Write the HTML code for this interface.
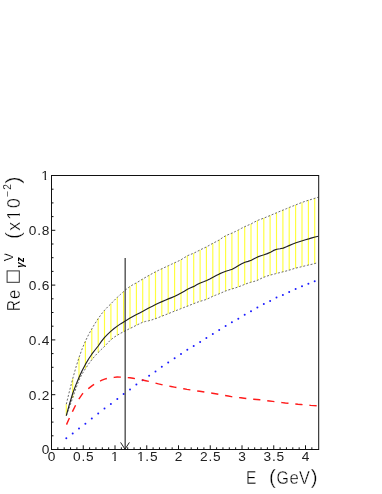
<!DOCTYPE html>
<html><head><meta charset="utf-8"><style>
html,body{margin:0;padding:0;background:#fff;}
svg{display:block;will-change:transform;}
text{font-family:"Liberation Sans",sans-serif;}
</style></head><body>
<svg width="382" height="494" viewBox="0 0 382 494">
<rect width="382" height="494" fill="#fff"/>
<g stroke="#ffff3c" stroke-width="1.15" fill="none"><line x1="66.3" y1="404.2" x2="66.3" y2="415.6"/><line x1="72.7" y1="378.8" x2="72.7" y2="398.0"/><line x1="79.0" y1="357.3" x2="79.0" y2="379.8"/><line x1="85.4" y1="341.2" x2="85.4" y2="368.7"/><line x1="91.8" y1="328.9" x2="91.8" y2="359.7"/><line x1="98.2" y1="318.6" x2="98.2" y2="352.5"/><line x1="104.5" y1="310.3" x2="104.5" y2="346.5"/><line x1="110.9" y1="303.8" x2="110.9" y2="339.7"/><line x1="117.3" y1="297.4" x2="117.3" y2="335.3"/><line x1="123.6" y1="291.6" x2="123.6" y2="331.7"/><line x1="130.0" y1="286.5" x2="130.0" y2="328.5"/><line x1="136.4" y1="282.9" x2="136.4" y2="325.3"/><line x1="142.7" y1="279.0" x2="142.7" y2="322.3"/><line x1="149.1" y1="275.3" x2="149.1" y2="320.7"/><line x1="155.5" y1="271.9" x2="155.5" y2="318.7"/><line x1="161.8" y1="268.8" x2="161.8" y2="316.2"/><line x1="168.2" y1="265.8" x2="168.2" y2="313.7"/><line x1="174.6" y1="262.8" x2="174.6" y2="311.1"/><line x1="181.0" y1="259.8" x2="181.0" y2="308.6"/><line x1="187.3" y1="255.8" x2="187.3" y2="306.2"/><line x1="193.7" y1="253.2" x2="193.7" y2="303.6"/><line x1="200.1" y1="249.9" x2="200.1" y2="301.3"/><line x1="206.4" y1="246.9" x2="206.4" y2="299.4"/><line x1="212.8" y1="243.3" x2="212.8" y2="296.3"/><line x1="219.2" y1="240.0" x2="219.2" y2="293.8"/><line x1="225.6" y1="235.8" x2="225.6" y2="291.0"/><line x1="231.9" y1="233.1" x2="231.9" y2="288.9"/><line x1="238.3" y1="230.0" x2="238.3" y2="286.9"/><line x1="244.7" y1="226.7" x2="244.7" y2="284.4"/><line x1="251.0" y1="223.9" x2="251.0" y2="282.2"/><line x1="257.4" y1="220.5" x2="257.4" y2="280.3"/><line x1="263.8" y1="218.1" x2="263.8" y2="277.2"/><line x1="270.1" y1="215.5" x2="270.1" y2="275.2"/><line x1="276.5" y1="212.8" x2="276.5" y2="273.4"/><line x1="282.9" y1="210.1" x2="282.9" y2="271.9"/><line x1="289.2" y1="207.5" x2="289.2" y2="270.1"/><line x1="295.6" y1="204.9" x2="295.6" y2="268.2"/><line x1="302.0" y1="202.4" x2="302.0" y2="266.6"/><line x1="308.4" y1="200.3" x2="308.4" y2="265.0"/><line x1="314.7" y1="198.4" x2="314.7" y2="263.6"/></g>
<path d="M66.3,404.2 L69.5,391.0 L72.7,378.8 L75.9,367.4 L79.1,357.3 L82.2,348.7 L85.4,341.2 L88.6,334.6 L91.8,328.9 L95.0,323.5 L98.2,318.6 L101.4,314.1 L104.6,310.2 L107.8,306.8 L111.0,303.7 L114.1,300.5 L117.3,297.3 L120.5,294.4 L123.7,291.5 L126.9,288.8 L130.1,286.4 L133.3,284.5 L136.5,282.8 L139.7,280.9 L142.9,278.9 L146.0,277.1 L149.2,275.3 L152.4,273.5 L155.6,271.8 L158.8,270.2 L162.0,268.7 L165.2,267.2 L168.4,265.7 L171.6,264.2 L174.8,262.7 L177.9,261.3 L181.1,259.7 L184.3,257.7 L187.5,255.7 L190.7,254.4 L193.9,253.1 L197.1,251.5 L200.3,249.8 L203.5,248.3 L206.7,246.8 L209.8,245.0 L213.0,243.2 L216.2,241.6 L219.4,239.9 L222.6,237.6 L225.8,235.7 L229.0,234.3 L232.2,233.0 L235.4,231.5 L238.6,229.9 L241.7,228.2 L244.9,226.6 L248.1,225.2 L251.3,223.8 L254.5,222.0 L257.7,220.4 L260.9,219.2 L264.1,218.0 L267.3,216.7 L270.5,215.4 L273.6,214.0 L276.8,212.7 L280.0,211.3 L283.2,210.0 L286.4,208.7 L289.6,207.3 L292.8,206.1 L296.0,204.8 L299.2,203.5 L302.4,202.3 L305.5,201.2 L308.7,200.2 L311.9,199.2 L315.1,198.2 L318.3,197.2" stroke="#505050" stroke-width="0.85" stroke-dasharray="2 1.75" fill="none"/>
<path d="M66.3,415.6 L69.5,406.8 L72.6,398.1 L75.8,388.8 L79.0,380.0 L82.2,373.8 L85.3,368.9 L88.5,364.1 L91.7,359.9 L94.8,356.1 L98.0,352.7 L101.2,349.6 L104.4,346.6 L107.5,343.2 L110.7,339.9 L113.9,337.4 L117.0,335.4 L120.2,333.5 L123.4,331.8 L126.5,330.2 L129.7,328.6 L132.9,327.1 L136.1,325.4 L139.2,323.9 L142.4,322.4 L145.6,321.4 L148.7,320.8 L151.9,319.9 L155.1,318.8 L158.3,317.6 L161.4,316.3 L164.6,315.1 L167.8,313.9 L170.9,312.6 L174.1,311.3 L177.3,310.1 L180.5,308.8 L183.6,307.6 L186.8,306.4 L190.0,305.1 L193.1,303.9 L196.3,302.6 L199.5,301.5 L202.6,300.6 L205.8,299.6 L209.0,298.2 L212.2,296.6 L215.3,295.3 L218.5,294.1 L221.7,292.7 L224.8,291.3 L228.0,290.1 L231.2,289.2 L234.4,288.2 L237.5,287.2 L240.7,286.0 L243.9,284.7 L247.0,283.5 L250.2,282.4 L253.4,281.6 L256.6,280.7 L259.7,279.2 L262.9,277.6 L266.1,276.4 L269.2,275.4 L272.4,274.5 L275.6,273.7 L278.7,272.9 L281.9,272.1 L285.1,271.3 L288.3,270.4 L291.4,269.5 L294.6,268.4 L297.8,267.6 L300.9,266.9 L304.1,266.1 L307.3,265.3 L310.5,264.6 L313.6,263.9 L316.8,262.9" stroke="#505050" stroke-width="0.85" stroke-dasharray="2 1.75" fill="none"/>
<path d="M66.3,415.6 L69.5,404.0 L72.7,393.5 L75.9,384.9 L79.1,377.3 L82.2,370.4 L85.4,364.4 L88.6,359.0 L91.8,354.2 L95.0,350.0 L98.2,346.0 L101.4,341.4 L104.6,337.4 L107.8,334.1 L111.0,331.1 L114.1,328.5 L117.3,326.1 L120.5,323.9 L123.7,321.9 L126.9,320.0 L130.1,318.0 L133.3,316.3 L136.5,314.6 L139.7,312.9 L142.9,311.3 L146.0,309.6 L149.2,307.8 L152.4,306.2 L155.6,304.6 L158.8,303.0 L162.0,301.6 L165.2,300.2 L168.4,298.9 L171.6,297.6 L174.8,296.3 L177.9,294.7 L181.1,293.0 L184.3,291.2 L187.5,289.3 L190.7,287.8 L193.9,286.4 L197.1,284.6 L200.3,283.0 L203.5,281.8 L206.7,280.5 L209.8,279.0 L213.0,277.3 L216.2,275.6 L219.4,273.9 L222.6,272.5 L225.8,271.3 L229.0,270.3 L232.2,269.2 L235.4,267.4 L238.6,265.6 L241.7,263.8 L244.9,262.3 L248.1,261.4 L251.3,260.2 L254.5,258.4 L257.7,256.9 L260.9,255.8 L264.1,254.8 L267.3,253.6 L270.5,252.2 L273.6,250.4 L276.8,249.2 L280.0,248.7 L283.2,248.1 L286.4,246.8 L289.6,245.4 L292.8,244.0 L296.0,242.8 L299.2,241.8 L302.4,240.8 L305.5,239.8 L308.7,238.9 L311.9,237.9 L315.1,237.0 L318.3,236.2" stroke="#222" stroke-width="1.15" stroke-linejoin="round" fill="none"/>
<g fill="#1a1aff"><circle cx="66.3" cy="438.3" r="1.0"/><circle cx="72.7" cy="433.6" r="1.0"/><circle cx="79.0" cy="428.5" r="1.0"/><circle cx="85.4" cy="423.7" r="1.0"/><circle cx="91.8" cy="418.5" r="1.0"/><circle cx="98.2" cy="413.4" r="1.0"/><circle cx="104.5" cy="408.6" r="1.0"/><circle cx="110.9" cy="404.0" r="1.0"/><circle cx="117.3" cy="399.0" r="1.0"/><circle cx="123.6" cy="394.1" r="1.0"/><circle cx="130.0" cy="389.4" r="1.0"/><circle cx="136.4" cy="384.6" r="1.0"/><circle cx="142.7" cy="380.2" r="1.0"/><circle cx="149.1" cy="375.7" r="1.0"/><circle cx="155.5" cy="371.4" r="1.0"/><circle cx="161.8" cy="366.8" r="1.0"/><circle cx="168.2" cy="362.6" r="1.0"/><circle cx="174.6" cy="358.2" r="1.0"/><circle cx="181.0" cy="354.1" r="1.0"/><circle cx="187.3" cy="349.7" r="1.0"/><circle cx="193.7" cy="345.9" r="1.0"/><circle cx="200.1" cy="342.0" r="1.0"/><circle cx="206.4" cy="338.0" r="1.0"/><circle cx="212.8" cy="334.0" r="1.0"/><circle cx="219.2" cy="329.9" r="1.0"/><circle cx="225.6" cy="325.9" r="1.0"/><circle cx="231.9" cy="322.3" r="1.0"/><circle cx="238.3" cy="318.7" r="1.0"/><circle cx="244.7" cy="314.8" r="1.0"/><circle cx="251.0" cy="311.2" r="1.0"/><circle cx="257.4" cy="307.5" r="1.0"/><circle cx="263.8" cy="304.1" r="1.0"/><circle cx="270.1" cy="300.9" r="1.0"/><circle cx="276.5" cy="297.6" r="1.0"/><circle cx="282.9" cy="295.0" r="1.0"/><circle cx="289.2" cy="292.0" r="1.0"/><circle cx="295.6" cy="289.1" r="1.0"/><circle cx="302.0" cy="286.2" r="1.0"/><circle cx="308.4" cy="283.7" r="1.0"/><circle cx="314.7" cy="281.3" r="1.0"/></g>
<path d="M66.5,424.6 L69.7,417.3 L72.8,410.9 L76.0,404.4 L79.2,398.5 L82.4,393.9 L85.5,390.9 L88.7,388.4 L91.9,385.9 L95.0,383.8 L98.2,381.9 L101.4,380.4 L104.6,379.2 L107.7,378.3 L110.9,377.8 L114.1,377.4 L117.2,377.0 L120.4,377.1 L123.6,377.3 L126.7,377.5 L129.9,377.8 L133.1,378.3 L136.3,378.8 L139.4,379.4 L142.6,380.0 L145.8,380.7 L148.9,381.4 L152.1,382.2 L155.3,383.0 L158.5,383.9 L161.6,384.6 L164.8,385.3 L168.0,385.9 L171.1,386.5 L174.3,387.1 L177.5,387.7 L180.7,388.3 L183.8,388.8 L187.0,389.4 L190.2,389.9 L193.3,390.4 L196.5,390.9 L199.7,391.3 L202.8,391.8 L206.0,392.3 L209.2,392.8 L212.4,393.2 L215.5,393.7 L218.7,394.3 L221.9,394.8 L225.0,395.5 L228.2,396.0 L231.4,396.6 L234.6,397.0 L237.7,397.4 L240.9,397.8 L244.1,398.2 L247.2,398.6 L250.4,398.9 L253.6,399.2 L256.8,399.5 L259.9,399.8 L263.1,400.2 L266.3,400.6 L269.4,401.0 L272.6,401.4 L275.8,401.8 L278.9,402.2 L282.1,402.6 L285.3,403.0 L288.5,403.3 L291.6,403.7 L294.8,404.0 L298.0,404.3 L301.1,404.5 L304.3,404.8 L307.5,405.1 L310.7,405.4 L313.8,405.6 L317.0,405.8" stroke="#ff1a1a" stroke-width="1.4" stroke-dasharray="7.25 6.9" fill="none"/>
<line x1="125.15" y1="258" x2="125.15" y2="449" stroke="#222" stroke-width="1.1"/>
<path d="M120.6,442.4 L125.0,449.2 L129.4,442.4" stroke="#222" stroke-width="1" fill="none"/>
<rect x="51.5" y="175.5" width="267.2" height="274.0" fill="none" stroke="#111" stroke-width="1"/>
<g stroke="#111" stroke-width="1"><line x1="51.50" y1="449.5" x2="51.50" y2="445.3"/><line x1="57.85" y1="449.5" x2="57.85" y2="447.3"/><line x1="64.20" y1="449.5" x2="64.20" y2="447.3"/><line x1="70.55" y1="449.5" x2="70.55" y2="447.3"/><line x1="76.90" y1="449.5" x2="76.90" y2="447.3"/><line x1="83.25" y1="449.5" x2="83.25" y2="445.3"/><line x1="89.60" y1="449.5" x2="89.60" y2="447.3"/><line x1="95.95" y1="449.5" x2="95.95" y2="447.3"/><line x1="102.30" y1="449.5" x2="102.30" y2="447.3"/><line x1="108.65" y1="449.5" x2="108.65" y2="447.3"/><line x1="115.00" y1="449.5" x2="115.00" y2="445.3"/><line x1="121.35" y1="449.5" x2="121.35" y2="447.3"/><line x1="127.70" y1="449.5" x2="127.70" y2="447.3"/><line x1="134.05" y1="449.5" x2="134.05" y2="447.3"/><line x1="140.40" y1="449.5" x2="140.40" y2="447.3"/><line x1="146.75" y1="449.5" x2="146.75" y2="445.3"/><line x1="153.10" y1="449.5" x2="153.10" y2="447.3"/><line x1="159.45" y1="449.5" x2="159.45" y2="447.3"/><line x1="165.80" y1="449.5" x2="165.80" y2="447.3"/><line x1="172.15" y1="449.5" x2="172.15" y2="447.3"/><line x1="178.50" y1="449.5" x2="178.50" y2="445.3"/><line x1="184.85" y1="449.5" x2="184.85" y2="447.3"/><line x1="191.20" y1="449.5" x2="191.20" y2="447.3"/><line x1="197.55" y1="449.5" x2="197.55" y2="447.3"/><line x1="203.90" y1="449.5" x2="203.90" y2="447.3"/><line x1="210.25" y1="449.5" x2="210.25" y2="445.3"/><line x1="216.60" y1="449.5" x2="216.60" y2="447.3"/><line x1="222.95" y1="449.5" x2="222.95" y2="447.3"/><line x1="229.30" y1="449.5" x2="229.30" y2="447.3"/><line x1="235.65" y1="449.5" x2="235.65" y2="447.3"/><line x1="242.00" y1="449.5" x2="242.00" y2="445.3"/><line x1="248.35" y1="449.5" x2="248.35" y2="447.3"/><line x1="254.70" y1="449.5" x2="254.70" y2="447.3"/><line x1="261.05" y1="449.5" x2="261.05" y2="447.3"/><line x1="267.40" y1="449.5" x2="267.40" y2="447.3"/><line x1="273.75" y1="449.5" x2="273.75" y2="445.3"/><line x1="280.10" y1="449.5" x2="280.10" y2="447.3"/><line x1="286.45" y1="449.5" x2="286.45" y2="447.3"/><line x1="292.80" y1="449.5" x2="292.80" y2="447.3"/><line x1="299.15" y1="449.5" x2="299.15" y2="447.3"/><line x1="305.50" y1="449.5" x2="305.50" y2="445.3"/><line x1="311.85" y1="449.5" x2="311.85" y2="447.3"/><line x1="51.5" y1="449.50" x2="55.3" y2="449.50"/><line x1="51.5" y1="435.80" x2="53.5" y2="435.80"/><line x1="51.5" y1="422.10" x2="53.5" y2="422.10"/><line x1="51.5" y1="408.40" x2="53.5" y2="408.40"/><line x1="51.5" y1="394.70" x2="55.3" y2="394.70"/><line x1="51.5" y1="381.00" x2="53.5" y2="381.00"/><line x1="51.5" y1="367.30" x2="53.5" y2="367.30"/><line x1="51.5" y1="353.60" x2="53.5" y2="353.60"/><line x1="51.5" y1="339.90" x2="55.3" y2="339.90"/><line x1="51.5" y1="326.20" x2="53.5" y2="326.20"/><line x1="51.5" y1="312.50" x2="53.5" y2="312.50"/><line x1="51.5" y1="298.80" x2="53.5" y2="298.80"/><line x1="51.5" y1="285.10" x2="55.3" y2="285.10"/><line x1="51.5" y1="271.40" x2="53.5" y2="271.40"/><line x1="51.5" y1="257.70" x2="53.5" y2="257.70"/><line x1="51.5" y1="244.00" x2="53.5" y2="244.00"/><line x1="51.5" y1="230.30" x2="55.3" y2="230.30"/><line x1="51.5" y1="216.60" x2="53.5" y2="216.60"/><line x1="51.5" y1="202.90" x2="53.5" y2="202.90"/><line x1="51.5" y1="189.20" x2="53.5" y2="189.20"/><line x1="51.5" y1="175.50" x2="55.3" y2="175.50"/></g>
<g font-size="13.7" fill="#222" letter-spacing="0.75"><text x="41.73" y="454.40">0</text><text x="28.81" y="399.60">0.2</text><text x="28.81" y="344.80">0.4</text><text x="28.81" y="290.00">0.6</text><text x="28.81" y="235.20">0.8</text><text x="41.33" y="180.40">1</text><text x="47.82" y="461.20">0</text><text x="73.10" y="461.20">0.5</text><text x="110.97" y="461.20">1</text><text x="137.00" y="461.20">1.5</text><text x="174.82" y="461.20">2</text><text x="200.10" y="461.20">2.5</text><text x="238.32" y="461.20">3</text><text x="263.60" y="461.20">3.5</text><text x="301.82" y="461.20">4</text></g>
<g fill="#fff"><rect x="41.77" y="178.93" width="2.85" height="2.22"/><rect x="46.14" y="178.93" width="2.79" height="2.22"/><rect x="111.41" y="459.73" width="2.85" height="2.22"/><rect x="115.77" y="459.73" width="2.79" height="2.22"/><rect x="137.44" y="459.73" width="2.85" height="2.22"/><rect x="141.81" y="459.73" width="2.79" height="2.22"/></g>
<g fill="#000" font-size="18" text-anchor="middle" stroke="#fff" stroke-width="0.35">
<text transform="translate(251.2,484) scale(0.86,1)">E</text>
<text x="272.5" y="483.7" font-size="20.5">(</text>
<text transform="translate(282.6,484) scale(0.88,1)">G</text>
<text transform="translate(294.2,484) scale(0.93,1)">e</text>
<text transform="translate(304.4,484) scale(0.9,1)">V</text>
<text x="314.2" y="483.7" font-size="20.5">)</text>
</g>
<g transform="translate(19.8,310) rotate(-90)" fill="#000" text-anchor="middle" stroke="#fff" stroke-width="0.35">
<text transform="translate(4.3,0) scale(0.84,1)" font-size="18.3">R</text>
<text transform="translate(15.7,0) scale(0.92,1)" font-size="18.3">e</text>
<rect x="27.7" y="-12.7" width="11.4" height="12.2" fill="none" stroke="#333" stroke-width="1"/>
<text x="53" y="-6.6" font-size="12.4" stroke-width="0.15">V</text>
<text x="45" y="3.7" font-size="10" font-weight="bold" font-style="italic" stroke="none">γ</text>
<text x="50.3" y="3.7" font-size="10" font-weight="bold" font-style="italic" stroke="none">z</text>
<text x="74.4" y="-0.2" font-size="20.5">(</text>
<text x="83.85" y="0" font-size="18">x</text>
<text x="90.1" y="0" font-size="18" text-anchor="start">1</text><rect x="90.87" y="-1.84" width="3.56" height="2.54" fill="#fff" stroke="none"/><rect x="96.42" y="-1.84" width="3.51" height="2.54" fill="#fff" stroke="none"/>
<text x="106.85" y="0" font-size="18">0</text>
<text x="116.25" y="-8.9" font-size="10.2" stroke-width="0.1">−</text>
<text x="123" y="-8.9" font-size="10.2" stroke-width="0.1">2</text>
<text x="130" y="-0.2" font-size="20.5">)</text>
</g>
</svg>
</body></html>
